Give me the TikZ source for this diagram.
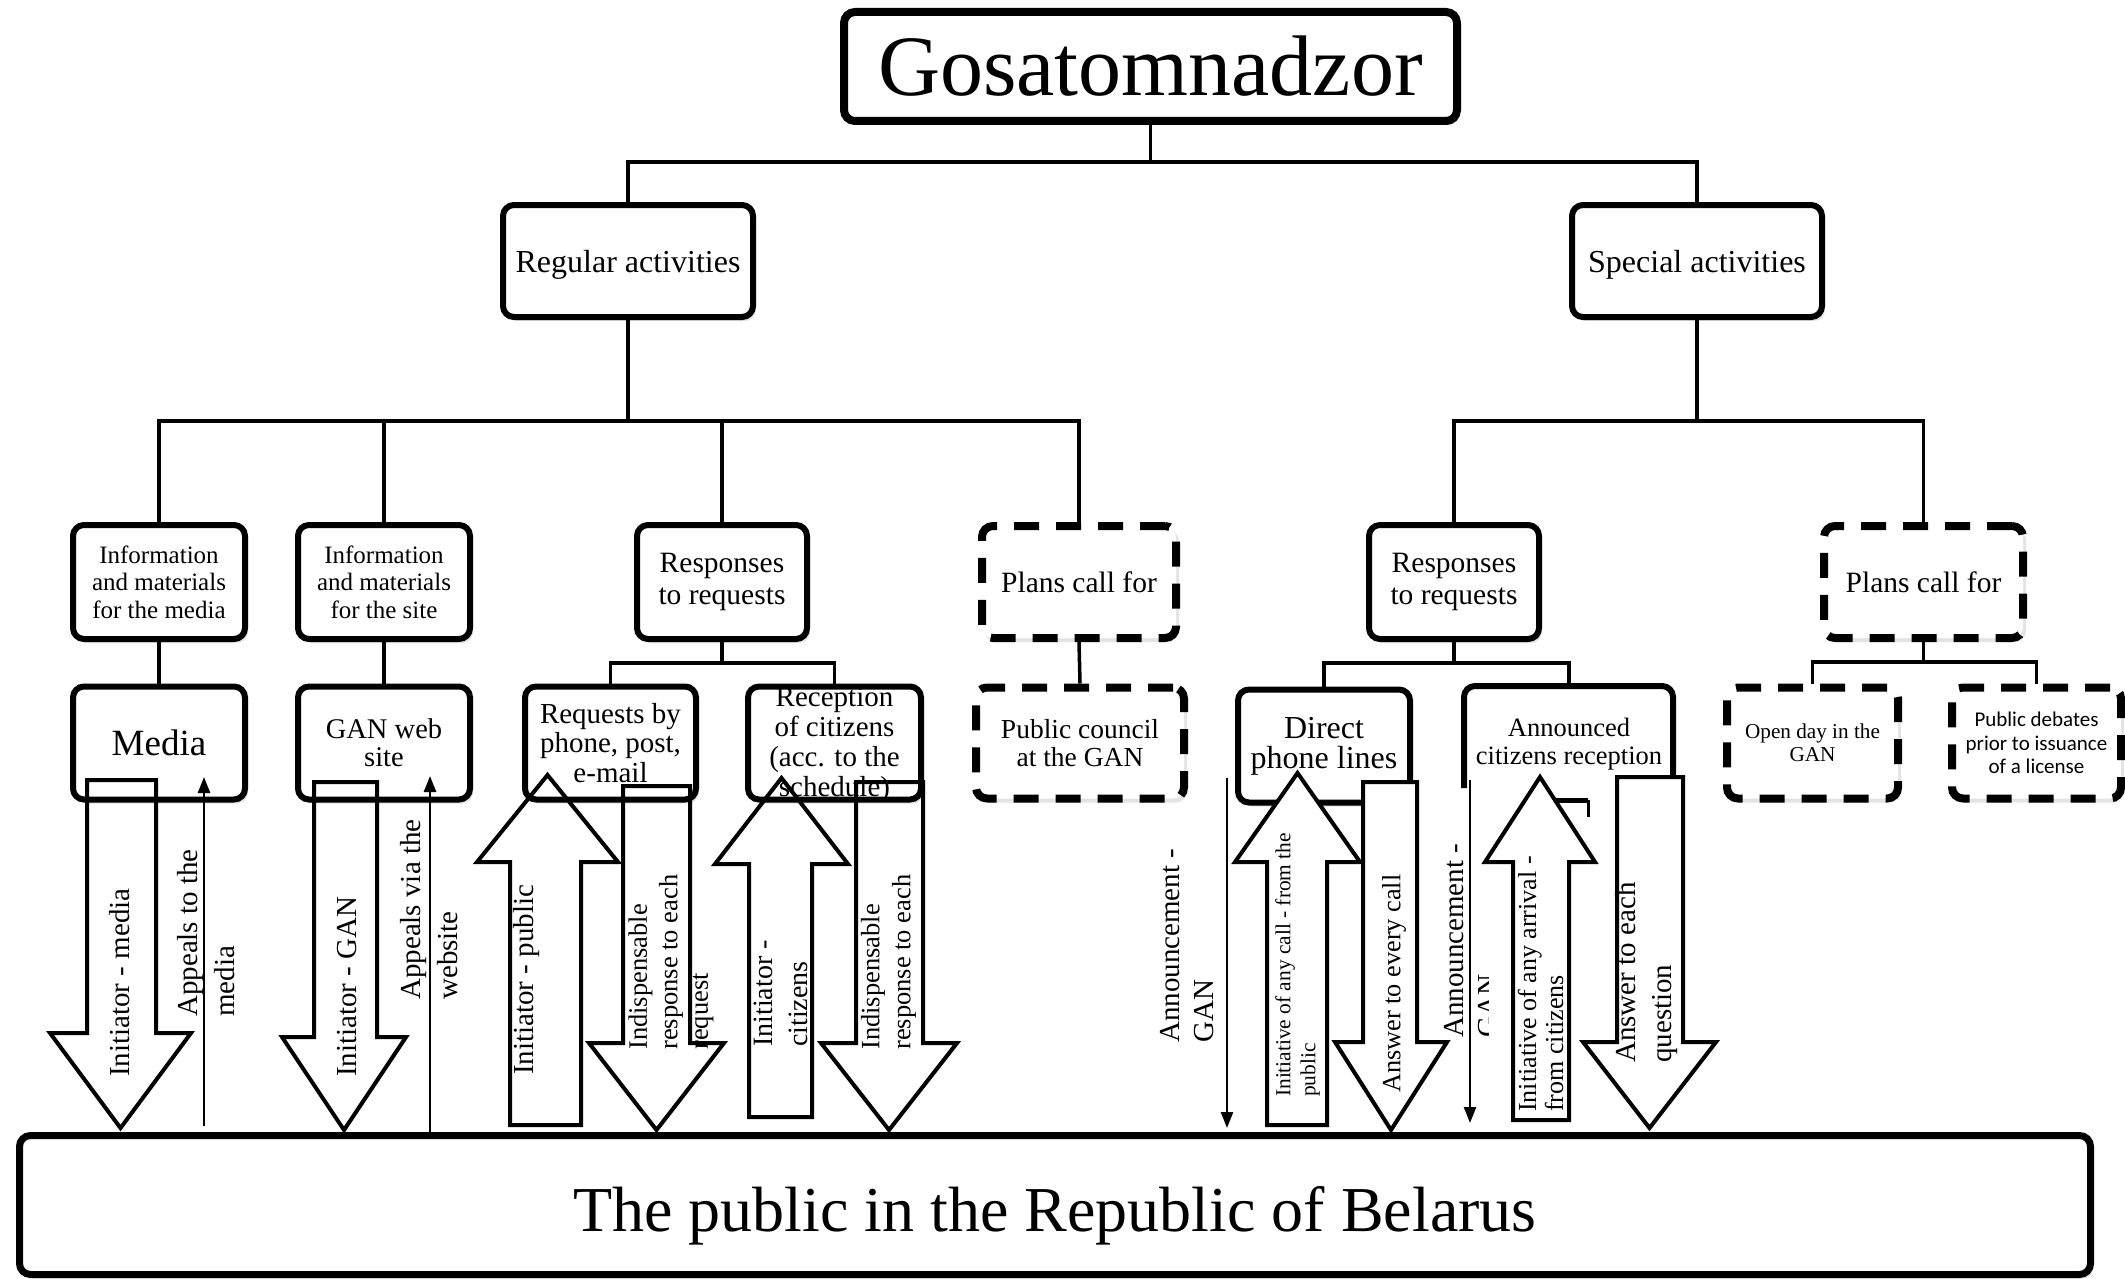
\documentclass[tikz,border=0pt]{standalone}
\usepackage{fontspec}
\setmainfont{Liberation Serif}
\newfontfamily\calibrifont{Carlito}
\usetikzlibrary{arrows.meta,shadows}
\newcommand\FS[2]{\fontsize{#1}{#2}\selectfont}
% block arrow: [opts] xl, xr, y shaft end, y head base, head left, head right, y tip
\newcommand\BArr[8][]{\draw[blk,#1] (#2,#5) -- (#2,#4) -- (#3,#4) -- (#3,#5) -- (#7,#5) -- ({(#6+#7)/2},#8) -- (#6,#5) -- cycle;}
\begin{document}
\begin{tikzpicture}[x=1pt,y=-1pt,
  bx/.style={draw, line width=6pt, rounded corners=11pt, fill=white, align=center, inner sep=0pt,
    drop shadow={opacity=0.22, shadow xshift=3pt, shadow yshift=-4pt}},
  dbx/.style={bx, line width=8pt, dash pattern=on 25pt off 17pt},
  con/.style={line width=3.5pt},
  blk/.style={line width=4pt, line join=miter},
  thinarr/.style={line width=2.5pt, -{Triangle[length=16pt,width=12pt]}},
  lbl/.style={rotate=90, anchor=west, align=left, inner sep=0pt}]
\useasboundingbox (0,0) rectangle (2125,1279);

% junctions
\coordinate (j1) at (1150.5,162);
\coordinate (j2) at (628,421);
\coordinate (j3) at (1697,421);
\coordinate (j4) at (722,663);
\coordinate (j5) at (1454,663);
\coordinate (j6) at (1923.5,662);
\coordinate (anntop) at (1569,686);

% nodes
\node[bx, line width=8pt, minimum width=613pt, minimum height=109pt, font=\FS{86}{90}] (gos) at (1150.5,66.5) {Gosatomnadzor};
\node[bx, minimum width=250pt, minimum height=112pt, font=\FS{32}{36}] (reg) at (628,261) {\raisebox{-4pt}[\height][\depth]{Regular activities}};
\node[bx, minimum width=250pt, minimum height=112pt, font=\FS{32}{36}] (spec) at (1697,261) {\raisebox{-4pt}[\height][\depth]{Special activities}};

\node[bx, minimum width=172pt, minimum height=114pt, font=\FS{25}{27.5}] (info1) at (159,582) {Information\\and materials\\for the media};
\node[bx, minimum width=172pt, minimum height=114pt, font=\FS{25}{27.5}] (info2) at (384,582) {Information\\and materials\\for the site};
\node[bx, minimum width=170pt, minimum height=114pt, font=\FS{29.5}{32}] (resp1) at (722,582) {Responses\\to requests};
\node[dbx, minimum width=194pt, minimum height=112pt, font=\FS{29.5}{32}] (plans1) at (1079,582) {Plans call for};
\node[bx, minimum width=170pt, minimum height=114pt, font=\FS{29.5}{32}] (resp2) at (1454,582) {Responses\\to requests};
\node[dbx, minimum width=199pt, minimum height=112pt, font=\FS{29.5}{32}] (plans2) at (1923.5,582) {Plans call for};

\node[bx, minimum width=172pt, minimum height=113pt, font=\FS{37}{40}] (media) at (159,743) {Media};
\node[bx, minimum width=172pt, minimum height=113pt, font=\FS{28.5}{28}] (web) at (384,743) {GAN web\\site};
\node[bx, minimum width=171pt, minimum height=113pt, font=\FS{29}{29.5}] (reqs) at (610.5,743) {Requests by\\phone, post,\\e-mail};
\node[bx, minimum width=173pt, minimum height=113pt] (recep) at (834.5,743) {};
\node[dbx, minimum width=208pt, minimum height=111pt, font=\FS{27.5}{27.5}] (council) at (1080,743) {Public council\\at the GAN};
\node[bx, minimum width=172pt, minimum height=113pt, font=\FS{32}{30}] (direct) at (1324,746) {Direct\\phone lines};
\node[dbx, minimum width=171pt, minimum height=111pt, font=\FS{21.2}{23}] (openday) at (1812.5,743) {Open day in the\\GAN};
\node[dbx, minimum width=169pt, minimum height=111pt, font=\calibrifont\FS{21}{23.5}] (debates) at (2036.5,743) {Public debates\\prior to issuance\\of a license};
\node[bx, line width=7pt, minimum width=2071pt, minimum height=139pt, font=\FS{64}{68}] (public) at (1055,1205) {\raisebox{-11pt}[\height][\depth]{The public in the Republic of Belarus}};

% announced citizens reception (open box)
\draw[line width=6pt, rounded corners=11pt] (1464,788) -- (1464,686) -- (1673,686) -- (1673,777);
\node[align=center, inner sep=0pt, font=\FS{26.5}{28}] (announced) at (1569,744) {Announced\\citizens reception};
\draw[line width=5pt] (1538,800) -- (1588,800);
\draw[line width=3pt] (1588,800) -- (1588,817);

% reception text (overflowing its box)
\node[align=center, inner sep=0pt, font=\FS{29}{30}] (recepT) at (834.5,745) {Reception\\of citizens\\(acc. to the\\schedule)};

% connectors
\draw[con] (gos.south) -- (j1);
\draw[con] (reg.north) |- (j1) -| (spec.north);
\draw[con] (reg.south) -- (j2);
\draw[con] (info1.north) |- (j2) -| (plans1.north);
\draw[con] (info2.north) -- (info2.north |- j2);
\draw[con] (resp1.north) -- (resp1.north |- j2);
\draw[con] (spec.south) -- (j3);
\draw[con] (resp2.north) |- (j3) -| (plans2.north);
\draw[con] (info1.south) -- (media.north);
\draw[con] (info2.south) -- (web.north);
\draw[con] (plans1.south) -- (council.north);
\draw[con] (resp1.south) -- (j4);
\draw[con] (reqs.north) |- (j4) -| (recep.north);
\draw[con] (resp2.south) -- (j5);
\draw[con] (direct.north) |- (j5) -| (anntop);
\draw[con] (plans2.south) -- (j6);
\draw[con] (openday.north) |- (j6) -| (debates.north);

% block arrows
\BArr{87}{156}{780}{1033}{50}{191}{1128}
\BArr{314}{377}{782}{1037}{282}{406}{1130}
\BArr{510}{581}{1125}{862}{477}{618}{775}
\BArr{623}{690}{786}{1043}{589}{724}{1130}
\BArr{749}{812}{1117}{864}{715}{848}{778}
\BArr{856}{923}{782}{1043}{821}{957}{1130}
\BArr[fill=white]{1267}{1327}{1125}{862}{1235}{1360}{773}
\BArr[fill=white]{1363}{1417}{782}{1042}{1335}{1447}{1130}
\BArr[fill=white]{1513}{1569}{1120}{862}{1485}{1595}{777}
\BArr[fill=white]{1617}{1683}{777}{1042}{1583}{1716}{1128}

% thin arrows
\coordinate (t1a) at (204,1126); \coordinate (t1b) at (204,777);
\coordinate (t2a) at (430,1132); \coordinate (t2b) at (430,776);
\coordinate (t3a) at (1227,778); \coordinate (t3b) at (1227,1128);
\coordinate (t4a) at (1470,780); \coordinate (t4b) at (1470,1123);
\draw[thinarr] (t1a) -- (t1b);
\draw[thinarr] (t2a) -- (t2b);
\draw[thinarr] (t3a) -- (t3b);
\draw[thinarr] (t4a) -- (t4b);

% labels
\node[lbl, font=\FS{29}{37}] (l1) at (120,1077) {Initiator - media};
\node[lbl, font=\FS{29}{37}] (l2) at (206,1017) {Appeals to the\\media};
\node[lbl, font=\FS{29}{37}] (l3) at (347,1077) {Initiator - GAN};
\node[lbl, font=\FS{29}{37}] (l4) at (429.5,1000) {Appeals via the\\website};
\node[lbl, font=\FS{29}{37}] (l5) at (527,1075) {Initiator - public};
\node[lbl, font=\FS{26.5}{30.5}] (l6) at (671,1050) {Indispensable\\response to each\\request};
\node[lbl, font=\FS{28}{35}] (l7) at (780.5,1047) {Initiator -\\citizens};
\node[lbl, font=\FS{26.5}{31}] (l8) at (888.5,1050) {Indispensable\\response to each};
\node[lbl, font=\FS{29}{34}] (l9) at (1187,1043) {Announcement -\\GAN};
\node[lbl, font=\FS{21.4}{25}] (l10) at (1297.5,1097) {Initiative of any call - from the\\public};
\node[lbl, font=\FS{26.3}{30}] (l11) at (1394,1093) {Answer to every call};
\begin{scope}
\clip (1430,800) rectangle (1488,1100);
\node[lbl, font=\FS{29}{34}] (l12) at (1471,1038) {Announcement -\\GAN};
\end{scope}
\node[lbl, font=\FS{26}{27}] (l13) at (1540.5,1112) {Initiative of any arrival -\\from citizens};
\node[lbl, font=\FS{29}{36}] (l14) at (1647,1063) {Answer to each\\question};
\end{tikzpicture}
\end{document}
